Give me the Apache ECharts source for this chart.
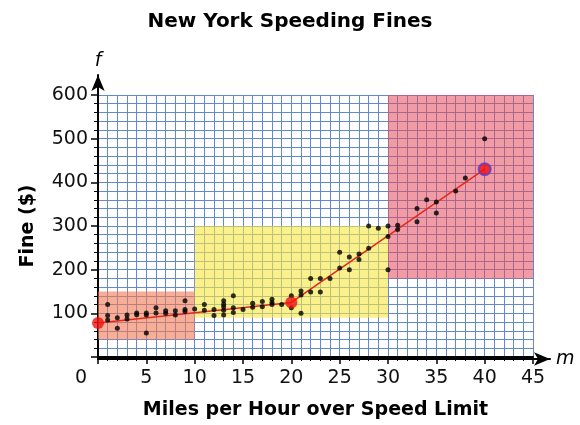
<!DOCTYPE html>
<html><head><meta charset="utf-8">
<script src="https://cdn.jsdelivr.net/npm/echarts@6/dist/echarts.min.js"></script>
<style>html,body{margin:0;padding:0;background:#fff}#c{width:580px;height:425px}</style>
</head><body><div id="c"></div>
<script>
const chartTitle = 'New York Speeding Fines';
const xName = 'Miles per Hour over Speed Limit';
const yName = 'Fine ($)';
const xVar = 'm';
const yVar = 'f';
const xTickLabels = [0, 5, 10, 15, 20, 25, 30, 35, 40, 45];
const yTickLabels = [100, 200, 300, 400, 500, 600];
const speedX = [1,1,1, 2,2, 3,3, 4,4, 5,5,5, 6,6, 7,7, 8,8, 9,9,9, 10,
  11,11, 12,12, 13,13,13,13,13, 14,14,14, 15, 16,16, 17,17, 18,18,18, 19, 20,20,
  21,21,21, 22,22, 23,23, 24, 25,25, 26,26, 27,27, 28,28, 29, 30,30,30, 31,31,
  33,33, 34, 35,35, 37, 38, 40];
const fineY = [120,95,85, 90,66, 96,87, 101,97, 101,96,55, 113,101, 106,100, 106,96, 129,109,104, 110,
  120,107, 109,95, 129,121,115,107,96, 140,113,102, 109, 123,114, 127,115, 132,125,120, 120, 140,113,
  151,142,100, 180,149, 180,149, 180, 240,204, 229,200, 236,223, 300,249, 295, 300,276,200, 302,292,
  340,310, 360, 355,330, 380, 410, 500];
const keyX = [0, 20, 40];
const keyY = [78, 125, 430];
const zoneX = [[0, 10], [10, 30], [30, 45]];
const zoneY = [[40, 150], [90, 300], [180, 600]];

const FONT = 'DejaVu Sans';
const zoneColors = ['rgba(240,120,80,0.6)', 'rgba(247,230,63,0.6)', 'rgba(230,75,90,0.55)'];
const gridColor = '#6488cc';

const chart = echarts.init(document.getElementById('c'), null, {renderer: 'canvas'});
const option = {
  backgroundColor: '#fff',
  animation: false,
  title: {
    text: chartTitle, left: 'center', top: 7,
    textStyle: {fontFamily: FONT, fontSize: 20, fontWeight: 'bold', color: '#000'}
  },
  grid: [
    {left: 98, right: 47, top: 95, bottom: 66},
    {left: 98, right: 30, top: 75, bottom: 66}
  ],
  xAxis: [
    {
      gridIndex: 0, type: 'value', min: xTickLabels[0], max: xTickLabels[xTickLabels.length - 1], interval: 5,
      name: xName, nameLocation: 'middle', nameGap: 44,
      nameTextStyle: {fontFamily: FONT, fontSize: 19, fontWeight: 'bold', color: '#000'},
      axisLine: {show: true, lineStyle: {color: '#000', width: 2}},
      axisTick: {show: true, length: 7, lineStyle: {color: '#000', width: 1.5}},
      minorTick: {show: true, splitNumber: 5, length: 4, lineStyle: {color: '#000', width: 1}},
      splitLine: {show: true, lineStyle: {color: gridColor, width: 1}},
      minorSplitLine: {show: true, lineStyle: {color: gridColor, width: 1}},
      axisLabel: {
        margin: 12, fontFamily: FONT, fontSize: 19, color: '#111',
        formatter: v => v === 0 ? '{z|0}' : String(v),
        rich: {z: {fontFamily: FONT, fontSize: 19, color: '#111', padding: [0, 34, 0, 0]}}
      }
    },
    {
      gridIndex: 1, type: 'value', min: 0, max: 1,
      name: xVar, nameLocation: 'end', nameGap: 6,
      nameTextStyle: {fontFamily: FONT, fontSize: 19, fontStyle: 'italic', color: '#000'},
      axisLine: {show: true, symbol: ['none', 'arrow'], symbolSize: [10, 16], lineStyle: {color: '#000', width: 2}},
      axisTick: {show: false}, axisLabel: {show: false}, splitLine: {show: false}
    }
  ],
  yAxis: [
    {
      gridIndex: 0, type: 'value', min: 0, max: yTickLabels[yTickLabels.length - 1], interval: 100,
      name: yName, nameLocation: 'middle', nameGap: 60, nameRotate: 90,
      nameTextStyle: {fontFamily: FONT, fontSize: 19, fontWeight: 'bold', color: '#000'},
      axisLine: {show: true, lineStyle: {color: '#000', width: 2}},
      axisTick: {show: true, length: 7, lineStyle: {color: '#000', width: 1.5}},
      minorTick: {show: true, splitNumber: 5, length: 4, lineStyle: {color: '#000', width: 1}},
      splitLine: {show: true, lineStyle: {color: gridColor, width: 1}},
      minorSplitLine: {show: true, lineStyle: {color: gridColor, width: 1}},
      axisLabel: {
        margin: 10, fontFamily: FONT, fontSize: 19, color: '#111',
        formatter: v => yTickLabels.indexOf(v) >= 0 ? String(v) : ''
      }
    },
    {
      gridIndex: 1, type: 'value', min: 0, max: 1,
      name: yVar, nameLocation: 'end', nameGap: 4,
      nameTextStyle: {fontFamily: FONT, fontSize: 19, fontStyle: 'italic', color: '#000'},
      axisLine: {show: true, symbol: ['none', 'arrow'], symbolSize: [10, 16], lineStyle: {color: '#000', width: 2}},
      axisTick: {show: false}, axisLabel: {show: false}, splitLine: {show: false}
    }
  ],
  series: [
    {
      type: 'line', xAxisIndex: 0, yAxisIndex: 0, data: [], z: 1, silent: true,
      markArea: {
        silent: true,
        data: zoneX.map((zx, i) => [
          {coord: [zx[0], zoneY[i][0]], itemStyle: {color: zoneColors[i]}},
          {coord: [zx[1], zoneY[i][1]]}
        ])
      }
    },
    {
      type: 'line', xAxisIndex: 0, yAxisIndex: 0, z: 3, symbol: 'none',
      data: keyX.map((x, i) => [x, keyY[i]]),
      lineStyle: {color: '#e5281c', width: 1.5}
    },
    {
      type: 'scatter', xAxisIndex: 0, yAxisIndex: 0, z: 4, symbolSize: 5,
      data: speedX.map((x, i) => [x, fineY[i]]),
      itemStyle: {color: '#000'}
    },
    {
      type: 'scatter', xAxisIndex: 0, yAxisIndex: 0, z: 5, symbolSize: 12,
      data: keyX.map((x, i) => i === keyX.length - 1
        ? {value: [x, keyY[i]], itemStyle: {color: '#f01010', borderColor: '#5a3ccf', borderWidth: 2}}
        : [x, keyY[i]]),
      itemStyle: {color: '#f01010'}
    }
  ]
};
chart.setOption(option);
</script>
</body></html>
